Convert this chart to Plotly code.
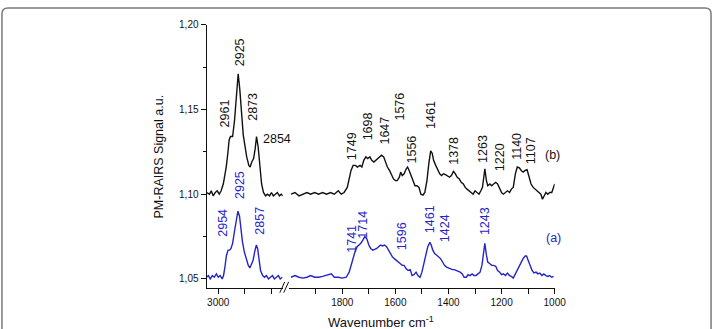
import plotly.graph_objects as go

# ---------------- data ----------------
# C-H stretching region (left panel)
ch_wn_b = [3044, 3033, 3026, 3019, 3011, 3004, 2996, 2989, 2981, 2976, 2970, 2964, 2959, 2954,
           2946, 2939, 2931, 2925, 2919, 2913, 2906, 2900, 2893, 2885, 2880, 2874, 2867, 2861,
           2856, 2850, 2844, 2837, 2830, 2822, 2815, 2807, 2800, 2793, 2785, 2778, 2770, 2763, 2757]
ch_b = [1.101, 1.100, 1.102, 1.099, 1.101, 1.102, 1.100, 1.102, 1.106, 1.110, 1.116, 1.124, 1.132, 1.134,
        1.134, 1.143, 1.160, 1.171, 1.162, 1.150, 1.135, 1.129, 1.122, 1.117, 1.116, 1.119, 1.121, 1.127,
        1.134, 1.128, 1.117, 1.106, 1.101, 1.099, 1.100, 1.099, 1.101, 1.099, 1.100, 1.101, 1.099, 1.100, 1.099]

ch_wn_a = [3044, 3037, 3030, 3022, 3015, 3007, 3000, 2993, 2985, 2980, 2974, 2969, 2963, 2957,
           2952, 2946, 2939, 2931, 2926, 2920, 2915, 2909, 2902, 2894, 2887, 2881, 2876, 2869,
           2863, 2857, 2852, 2846, 2841, 2833, 2826, 2819, 2811, 2804, 2796, 2789, 2781, 2774, 2767, 2759]
ch_a = [1.051, 1.052, 1.050, 1.052, 1.051, 1.053, 1.051, 1.052, 1.050, 1.052, 1.058, 1.064, 1.067, 1.067,
        1.068, 1.071, 1.078, 1.087, 1.090, 1.087, 1.079, 1.072, 1.066, 1.061, 1.058, 1.0565, 1.058, 1.061,
        1.066, 1.070, 1.068, 1.061, 1.055, 1.052, 1.051, 1.052, 1.050, 1.051, 1.052, 1.050, 1.051, 1.052,
        1.050, 1.051]

# fingerprint region (right panel)
fp_wn_b = [1993, 1978, 1963, 1948, 1933, 1919, 1904, 1889, 1874, 1859, 1844, 1830, 1815, 1804, 1793,
           1781, 1774, 1767, 1759, 1750, 1743, 1733, 1726, 1719, 1711, 1704, 1696, 1689, 1681, 1674,
           1667, 1659, 1652, 1644, 1637, 1630, 1622, 1615, 1607, 1600, 1593, 1585, 1580, 1574, 1567,
           1559, 1554, 1548, 1541, 1533, 1526, 1519, 1511, 1504, 1496, 1489, 1481, 1474, 1467, 1461,
           1456, 1448, 1441, 1433, 1426, 1419, 1411, 1404, 1396, 1389, 1381, 1374, 1367, 1359, 1352,
           1344, 1337, 1330, 1322, 1315, 1307, 1300, 1293, 1285, 1278, 1272, 1267, 1263, 1257, 1252,
           1244, 1237, 1230, 1222, 1215, 1207, 1200, 1193, 1185, 1178, 1170, 1163, 1156, 1148, 1141,
           1133, 1126, 1119, 1111, 1104, 1096, 1089, 1081, 1074, 1067, 1059, 1052, 1046, 1041, 1033,
           1026, 1019, 1011, 1004, 1000]
fp_b = [1.100, 1.101, 1.099, 1.100, 1.101, 1.100, 1.101, 1.100, 1.101, 1.100, 1.101, 1.100, 1.102, 1.100, 1.101,
        1.104, 1.109, 1.114, 1.117, 1.117, 1.116, 1.117, 1.116, 1.120, 1.122, 1.121, 1.122, 1.120, 1.119, 1.120,
        1.121, 1.122, 1.123, 1.122, 1.119, 1.116, 1.114, 1.112, 1.109, 1.108, 1.108, 1.110, 1.113, 1.111, 1.112,
        1.115, 1.116, 1.114, 1.111, 1.107, 1.105, 1.105, 1.104, 1.100, 1.0995, 1.101, 1.108, 1.118, 1.1255, 1.124,
        1.120, 1.117, 1.1145, 1.112, 1.111, 1.112, 1.1115, 1.111, 1.110, 1.111, 1.1135, 1.112, 1.110, 1.109, 1.107,
        1.106, 1.104, 1.103, 1.102, 1.101, 1.100, 1.102, 1.101, 1.100, 1.102, 1.104, 1.110, 1.115, 1.108, 1.105,
        1.106, 1.105, 1.106, 1.107, 1.106, 1.103, 1.101, 1.100, 1.101, 1.102, 1.101, 1.103, 1.104, 1.112, 1.116,
        1.1155, 1.114, 1.113, 1.114, 1.1145, 1.110, 1.106, 1.104, 1.103, 1.102, 1.101, 1.100, 1.097, 1.099, 1.101,
        1.100, 1.101, 1.101, 1.104, 1.106]

fp_wn_a = [1993, 1978, 1963, 1948, 1933, 1919, 1904, 1889, 1874, 1859, 1841, 1830, 1815, 1800, 1785,
           1774, 1767, 1759, 1752, 1744, 1737, 1730, 1722, 1715, 1707, 1700, 1693, 1685, 1678, 1670,
           1663, 1656, 1648, 1641, 1633, 1626, 1619, 1611, 1604, 1596, 1589, 1581, 1574, 1567, 1559,
           1552, 1544, 1537, 1530, 1522, 1515, 1507, 1500, 1493, 1485, 1478, 1470, 1465, 1459, 1452,
           1444, 1437, 1430, 1422, 1415, 1407, 1400, 1393, 1385, 1378, 1370, 1363, 1356, 1348, 1341,
           1333, 1326, 1319, 1311, 1304, 1296, 1289, 1281, 1274, 1269, 1263, 1257, 1252, 1244, 1237,
           1230, 1222, 1215, 1207, 1200, 1193, 1185, 1178, 1170, 1163, 1156, 1148, 1141, 1133, 1126,
           1119, 1111, 1106, 1100, 1093, 1085, 1078, 1070, 1063, 1056, 1048, 1041, 1033, 1026, 1019,
           1011, 1004]
fp_a = [1.051, 1.052, 1.051, 1.0505, 1.051, 1.052, 1.051, 1.051, 1.0515, 1.052, 1.053, 1.051, 1.051, 1.0505, 1.051,
        1.054, 1.058, 1.062, 1.066, 1.069, 1.070, 1.071, 1.073, 1.075, 1.0735, 1.070, 1.068, 1.067, 1.0675, 1.068,
        1.069, 1.070, 1.0695, 1.070, 1.069, 1.067, 1.065, 1.063, 1.062, 1.061, 1.0605, 1.059, 1.058, 1.058, 1.056,
        1.055, 1.0555, 1.052, 1.0525, 1.054, 1.052, 1.051, 1.054, 1.059, 1.064, 1.069, 1.0716, 1.070, 1.067, 1.065,
        1.064, 1.063, 1.062, 1.060, 1.058, 1.057, 1.0565, 1.056, 1.0555, 1.0555, 1.055, 1.0545, 1.054, 1.053, 1.051,
        1.051, 1.0525, 1.052, 1.053, 1.052, 1.052, 1.053, 1.054, 1.058, 1.065, 1.071, 1.064, 1.060, 1.059, 1.058,
        1.058, 1.0575, 1.055, 1.054, 1.0525, 1.053, 1.052, 1.0535, 1.052, 1.0515, 1.0505, 1.053, 1.056, 1.058, 1.060,
        1.062, 1.0635, 1.0635, 1.061, 1.058, 1.055, 1.0535, 1.054, 1.053, 1.0535, 1.052, 1.053, 1.052, 1.0515, 1.052,
        1.051, 1.0515]

# peak labels
labels_b_ch = ["2925", "2961", "2873"]
labels_b_fp = ["1749", "1698", "1647", "1576", "1556", "1461", "1378", "1263", "1220", "1140", "1107"]
labels_a_ch = ["2925", "2954", "2857"]
labels_a_fp = ["1741", "1714", "1596", "1461", "1424", "1243"]

x_ticks_ch = [3000]
x_minor_ch = [2900, 2800]
x_ticks_fp = [1800, 1600, 1400, 1200, 1000]
x_minor_fp = [1900, 1700, 1500, 1300, 1100]
y_ticks = [1.05, 1.10, 1.15, 1.20]
y_minor = [1.075, 1.125, 1.175]

# ---------------- layout helpers ----------------
W, H = 726, 329
BLACK = "#111111"
BLUE = "#2424c8"
FONT = "Arial, Liberation Sans, Helvetica, sans-serif"


def px(x):
    return x / W


def py(y):
    return 1 - y / H


# label anchor positions (centres, in data units)
pos_b_ch = [(2917, 1.1839), (2973, 1.1479), (2869, 1.1516)]
pos_b_fp = [(1762, 1.1285), (1703, 1.1400), (1638, 1.1377), (1583, 1.1516), (1537, 1.1264),
            (1466, 1.1467), (1379, 1.1256), (1268, 1.1264), (1206, 1.1218), (1142, 1.1285),
            (1091, 1.1256)]
pos_a_ch = [(2919, 1.1053), (2983, 1.0830), (2844, 1.0842)]
pos_a_fp = [(1762, 1.0739), (1725, 1.0821), (1577, 1.0755), (1471, 1.0850), (1412, 1.0801),
            (1262, 1.0842)]

fig = go.Figure()
line_w = 1.4
fig.add_trace(go.Scatter(x=ch_wn_b, y=ch_b, mode="lines", line=dict(color=BLACK, width=line_w),
                         xaxis="x", yaxis="y", showlegend=False))
fig.add_trace(go.Scatter(x=fp_wn_b, y=fp_b, mode="lines", line=dict(color=BLACK, width=line_w),
                         xaxis="x2", yaxis="y", showlegend=False))
fig.add_trace(go.Scatter(x=ch_wn_a, y=ch_a, mode="lines", line=dict(color=BLUE, width=line_w),
                         xaxis="x", yaxis="y", showlegend=False))
fig.add_trace(go.Scatter(x=fp_wn_a, y=fp_a, mode="lines", line=dict(color=BLUE, width=line_w),
                         xaxis="x2", yaxis="y", showlegend=False))

ann = []


def add_labels(texts, positions, xref, color):
    for t, (x, y) in zip(texts, positions):
        ann.append(dict(text=t, x=x, y=y, xref=xref, yref="y", showarrow=False, textangle=-90,
                        xanchor="center", yanchor="middle",
                        font=dict(family=FONT, size=12.5, color=color)))


add_labels(labels_b_ch, pos_b_ch, "x", BLACK)
add_labels(labels_b_fp, pos_b_fp, "x2", BLACK)
add_labels(labels_a_ch, pos_a_ch, "x", BLUE)
add_labels(labels_a_fp, pos_a_fp, "x2", BLUE)

ann.append(dict(text="2854", x=px(282), y=py(135), xref="paper", yref="paper", showarrow=False,
                xanchor="center", yanchor="middle", font=dict(family=FONT, size=12.5, color=BLACK)))
ann.append(dict(text="(b)", x=px(561.7), y=py(151.7), xref="paper", yref="paper", showarrow=False,
                xanchor="center", yanchor="middle", font=dict(family=FONT, size=12.5, color=BLACK)))
ann.append(dict(text="(a)", x=px(562.7), y=py(236.7), xref="paper", yref="paper", showarrow=False,
                xanchor="center", yanchor="middle", font=dict(family=FONT, size=12.5, color=BLUE)))
ann.append(dict(text="Wavenumber cm<sup>-1</sup>", x=px(387), y=py(322), xref="paper", yref="paper",
                showarrow=False, xanchor="center", yanchor="middle",
                font=dict(family=FONT, size=13, color=BLACK)))
ann.append(dict(text="PM-RAIRS Signal a.u.", x=px(162), y=py(153), xref="paper", yref="paper",
                showarrow=False, textangle=-90, xanchor="center", yanchor="middle",
                font=dict(family=FONT, size=12.5, color=BLACK)))

# frame (rounded rectangle, bottom cut off) and axis break marks
r = 6
x0, x1, y0 = 2, 723, 2
frame_path = (f"M {px(x0)},{py(340)} L {px(x0)},{py(y0 + r)} "
              f"Q {px(x0)},{py(y0)} {px(x0 + r)},{py(y0)} L {px(x1 - r)},{py(y0)} "
              f"Q {px(x1)},{py(y0)} {px(x1)},{py(y0 + r)} L {px(x1)},{py(340)}")
shapes = [
    dict(type="path", path=frame_path, xref="paper", yref="paper",
         line=dict(color="#7a7a7a", width=1.5)),
    dict(type="line", xref="paper", yref="paper", x0=px(284.5), y0=py(292), x1=px(289.5), y1=py(281),
         line=dict(color=BLACK, width=1)),
    dict(type="line", xref="paper", yref="paper", x0=px(288.5), y0=py(292), x1=px(293.5), y1=py(281),
         line=dict(color=BLACK, width=1)),
]

axis_common = dict(showline=True, linecolor=BLACK, linewidth=1, ticks="outside", ticklen=5,
                   tickcolor=BLACK, tickwidth=1, showgrid=False, zeroline=False,
                   tickfont=dict(family=FONT, size=10, color=BLACK))

fig.update_layout(
    width=W, height=H,
    margin=dict(l=0, r=0, t=0, b=0),
    paper_bgcolor="white", plot_bgcolor="white",
    separators=", ",
    xaxis=dict(domain=[px(210), px(287.5)], range=[3044, 2757.5], anchor="y",
               tickvals=x_ticks_ch, ticktext=[str(v) for v in x_ticks_ch],
               minor=dict(tickvals=x_minor_ch, ticks="outside", ticklen=5, tickcolor=BLACK),
               **axis_common),
    xaxis2=dict(domain=[px(294), px(564)], range=[2000, 1000], anchor="y",
                tickvals=x_ticks_fp, ticktext=[str(v) for v in x_ticks_fp],
                minor=dict(tickvals=x_minor_fp, ticks="outside", ticklen=5, tickcolor=BLACK),
                **axis_common),
    yaxis=dict(domain=[py(287), py(19)], range=[1.0448, 1.2], anchor="x",
               tickvals=y_ticks, tickformat=".2f",
               minor=dict(tickvals=y_minor, ticks="outside", ticklen=3, tickcolor=BLACK),
               **axis_common),
    annotations=ann,
    shapes=shapes,
)

fig.write_html("out.html", config={"displayModeBar": False})
